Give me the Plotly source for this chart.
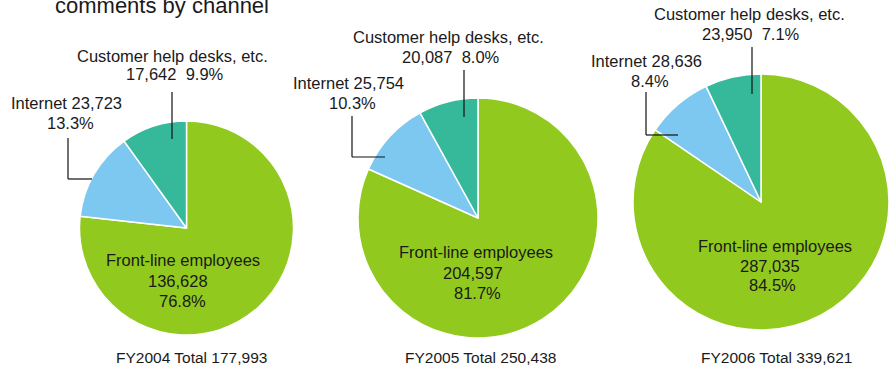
import plotly.graph_objects as go

# ---- data ----
years = ["FY2004", "FY2005", "FY2006"]
channels = ["Front-line employees", "Internet", "Customer help desks, etc."]
frontline = [136628, 204597, 287035]
internet = [23723, 25754, 28636]
helpdesk = [17642, 20087, 23950]
totals = [177993, 250438, 339621]
colors = ["#92C91E", "#7DC8F0", "#36B89B"]
title_text = "comments by channel"

W, H = 889, 365


def X(px):
    return px / W


def Y(py):
    return 1 - py / H


# pie geometry in pixels: (left, right, top, bottom)
pie_boxes = [
    (79.5, 293.5, 121, 335),
    (358, 598, 98, 338),
    (633, 889, 74, 330),
]

fig = go.Figure()
for i, yr in enumerate(years):
    l, r, t, b = pie_boxes[i]
    fig.add_trace(go.Pie(
        labels=channels,
        values=[frontline[i], internet[i], helpdesk[i]],
        sort=False,
        direction="clockwise",
        rotation=0,
        marker=dict(colors=colors, line=dict(color="white", width=1.5)),
        textinfo="none",
        hoverinfo="skip",
        showlegend=False,
        domain=dict(x=[X(l), X(r)], y=[Y(b), Y(t)]),
    ))


def pct(v, tot):
    return f"{v / tot * 100:.1f}%"


def fmt(v):
    return f"{v:,}"


FONT = "Liberation Sans, Arial, sans-serif"
TXT = "#1a1a1a"
annotations = []


def label(text, cx, top, base, size=16.5, anchor="center"):
    annotations.append(dict(
        text=text, x=X(cx), y=Y((top + base) / 2), xref="paper", yref="paper",
        xanchor=anchor, yanchor="middle", showarrow=False,
        font=dict(family=FONT, size=size, color=TXT),
    ))


# per-pie label layout (pixel positions)
help_pos = [((172, 50, 62), (175, 68, 80)),
            ((448, 32, 43), (451, 52, 63)),
            ((749, 8, 20), (751, 28, 40))]
net_pos = [((66, 97, 109), (70, 117, 129)),
           ((348, 77, 88), (352, 97, 108)),
           ((646, 55, 66), (650, 75, 87))]
front_pos = [((183, 253, 266), (178, 275, 286), (182, 295, 306)),
             ((476, 245, 258), (473, 267, 278), (477, 287, 298)),
             ((775, 240, 252), (770, 260, 271), (772, 280, 290))]
total_pos = [(191, 352, 363), (480, 352, 363), (776, 352, 363)]

for i in range(3):
    tot = totals[i]
    (a, b) = help_pos[i]
    label(channels[2], *a)
    label(f"{fmt(helpdesk[i])}&nbsp;&nbsp;{pct(helpdesk[i], tot)}", *b)
    (a, b) = net_pos[i]
    label(f"{channels[1]} {fmt(internet[i])}", *a)
    label(pct(internet[i], tot), *b)
    (a, b, c) = front_pos[i]
    label(channels[0], *a)
    label(fmt(frontline[i]), *b)
    label(pct(frontline[i], tot), *c)
    label(f"{years[i]} Total {fmt(tot)}", *total_pos[i], size=15.5)

# title (partially cut at top, as in the reference)
annotations.append(dict(
    text=title_text, x=X(53), y=Y(5.5), xref="paper", yref="paper",
    xanchor="left", yanchor="middle", showarrow=False,
    font=dict(family=FONT, size=22, color=TXT),
))

# leader lines
shapes = []


def seg(x0, y0, x1, y1):
    shapes.append(dict(type="line", xref="paper", yref="paper",
                       x0=X(x0), y0=Y(y0), x1=X(x1), y1=Y(y1),
                       line=dict(color="#111111", width=1.2)))


help_lead = [(172, 92, 139), (464, 70, 117), (752, 47, 94)]
net_lead = [(68, 138, 179, 92), (352, 116, 157, 385), (646, 92, 135, 678)]
for (x, y0, y1) in help_lead:
    seg(x, y0, x, y1)
for (x, y0, y1, x2) in net_lead:
    seg(x, y0, x, y1)
    seg(x, y1, x2, y1)

fig.update_layout(
    width=W, height=H, autosize=False,
    margin=dict(l=0, r=0, t=0, b=0),
    paper_bgcolor="white", plot_bgcolor="white",
    annotations=annotations, shapes=shapes,
)

fig.write_html("out.html", config={"displayModeBar": False})
